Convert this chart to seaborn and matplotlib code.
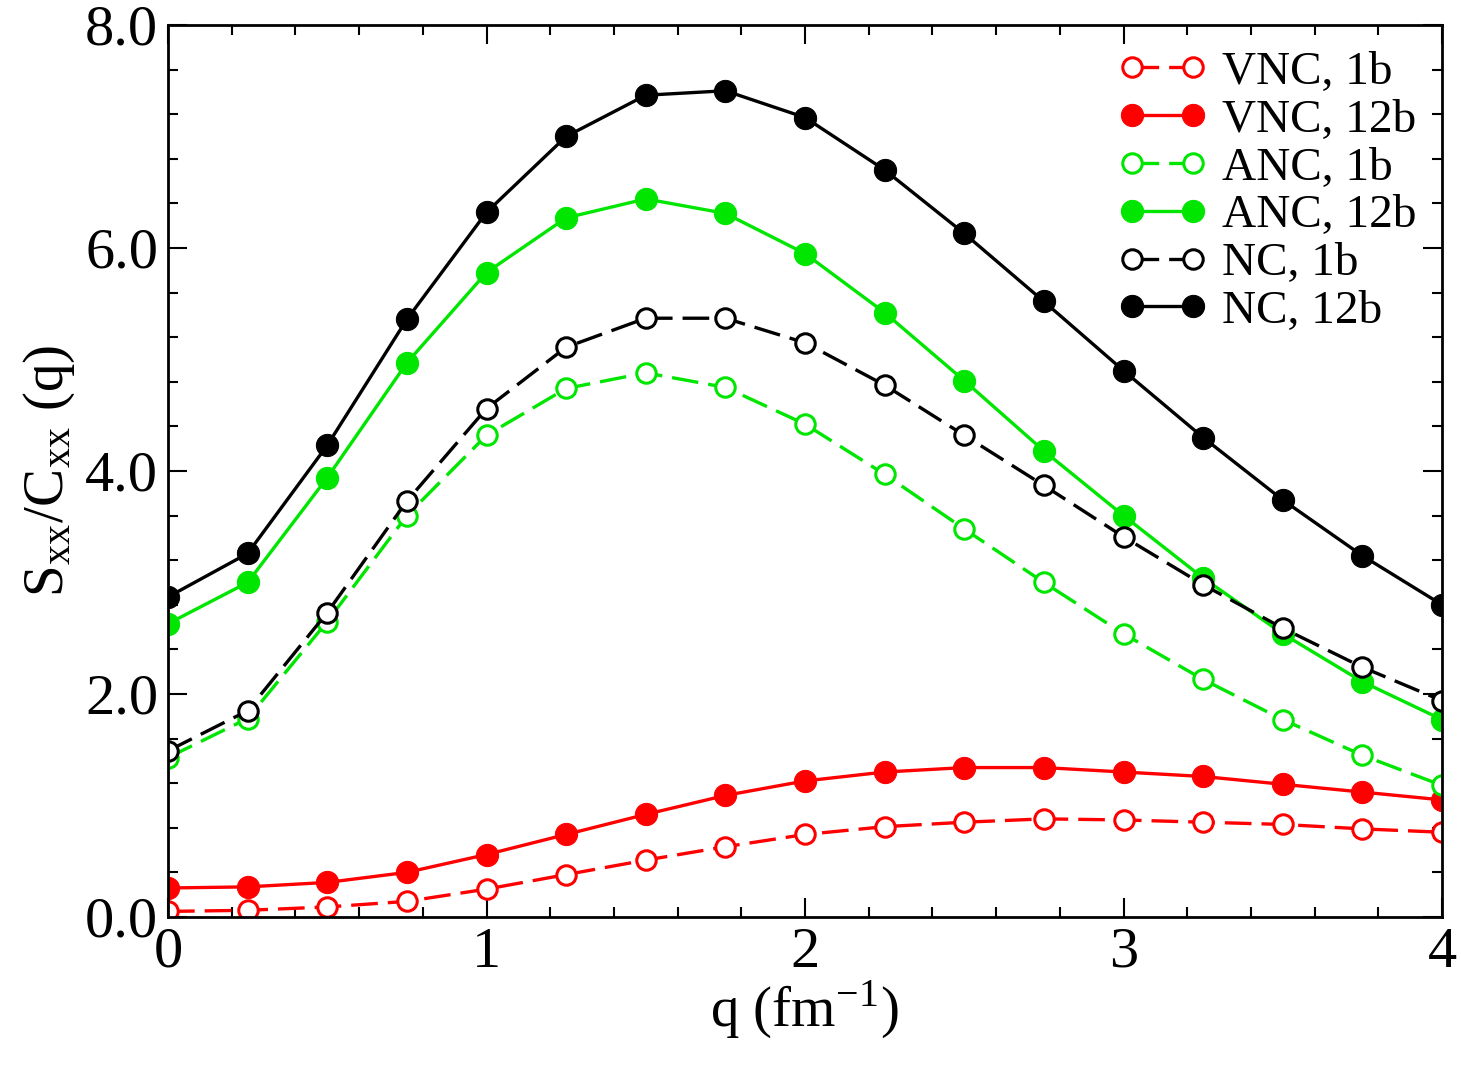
import numpy as np
import pandas as pd
import matplotlib
matplotlib.use('Agg')
import matplotlib.pyplot as plt
import seaborn as sns
from matplotlib.ticker import MultipleLocator

q = [0, 0.25, 0.5, 0.75, 1, 1.25, 1.5, 1.75, 2, 2.25, 2.5, 2.75, 3, 3.25, 3.5, 3.75, 4]

vnc_1b = [0.05, 0.06, 0.09, 0.14, 0.25, 0.38, 0.51, 0.63, 0.74, 0.81, 0.85, 0.88, 0.87, 0.85, 0.83, 0.79, 0.76]
vnc_12b = [0.26, 0.27, 0.31, 0.40, 0.56, 0.74, 0.92, 1.09, 1.22, 1.30, 1.34, 1.34, 1.30, 1.26, 1.19, 1.12, 1.05]
anc_1b = [1.43, 1.78, 2.65, 3.60, 4.32, 4.74, 4.88, 4.75, 4.42, 3.97, 3.48, 3.00, 2.54, 2.13, 1.77, 1.45, 1.18]
anc_12b = [2.63, 3.00, 3.94, 4.97, 5.78, 6.27, 6.44, 6.31, 5.95, 5.42, 4.81, 4.18, 3.60, 3.04, 2.54, 2.11, 1.77]
nc_1b = [1.49, 1.85, 2.73, 3.73, 4.56, 5.11, 5.37, 5.37, 5.15, 4.77, 4.32, 3.87, 3.41, 2.98, 2.59, 2.24, 1.94]
nc_12b = [2.87, 3.26, 4.23, 5.36, 6.32, 7.00, 7.37, 7.41, 7.17, 6.70, 6.13, 5.52, 4.90, 4.30, 3.74, 3.24, 2.80]

labels = ['VNC, 1b', 'VNC, 12b', 'ANC, 1b', 'ANC, 12b', 'NC, 1b', 'NC, 12b']
series = [vnc_1b, vnc_12b, anc_1b, anc_12b, nc_1b, nc_12b]
colors = ['#ff0000', '#ff0000', '#00e600', '#00e600', '#000000', '#000000']
filled = [False, True, False, True, False, True]

sns.set_style('ticks')
plt.rcParams['font.family'] = ['Liberation Serif', 'DejaVu Serif']
plt.rcParams['mathtext.fontset'] = 'stix'
for k in ['text.color', 'axes.labelcolor', 'xtick.color', 'ytick.color']:
    plt.rcParams[k] = 'black'

fig = plt.figure(figsize=(14.61, 10.67), dpi=100)
ax = fig.add_axes([0.115, 0.1406, 0.872, 0.836])

for lab, vals, c, f in zip(labels, series, colors, filled):
    df = pd.DataFrame({'q': q, 'S': vals})
    if f:
        sns.lineplot(data=df, x='q', y='S', ax=ax, color=c, marker='o', markersize=16,
                     markerfacecolor=c, markeredgecolor=c, linewidth=2.4,
                     linestyle='-', label=lab)
    else:
        sns.lineplot(data=df, x='q', y='S', ax=ax, color=c, marker='o', markersize=14,
                     markerfacecolor='white', markeredgecolor=c, markeredgewidth=2.2,
                     linewidth=2.4, dashes=(8, 3), label=lab)

ax.set_xlim(0, 4)
ax.set_ylim(0, 8)
ax.xaxis.set_major_locator(MultipleLocator(1))
ax.xaxis.set_minor_locator(MultipleLocator(0.2))
ax.yaxis.set_major_locator(MultipleLocator(2))
ax.yaxis.set_minor_locator(MultipleLocator(0.4))
ax.yaxis.set_major_formatter(matplotlib.ticker.FormatStrFormatter('%.1f'))
ax.tick_params(which='both', direction='in', top=True, right=True, width=1.5)
ax.tick_params(which='major', length=14, labelsize=42, pad=7)
ax.tick_params(which='minor', length=7)
for s in ax.spines.values():
    s.set_linewidth(2)
    s.set_color('black')

ax.set_xlabel(r'q (fm$^{\mathregular{-1}}$)', fontsize=41, labelpad=0)
ax.set_ylabel(r'S$_{\mathregular{xx}}$/C$_{\mathregular{xx}}$ (q)', fontsize=41, labelpad=6)

leg = ax.legend(loc='upper right', frameon=False, fontsize=34, numpoints=2,
                handlelength=1.9, handletextpad=0.3, labelspacing=0.1,
                borderaxespad=0.15, bbox_to_anchor=(1.0, 1.0))

fig.savefig('out.png', dpi=100)
